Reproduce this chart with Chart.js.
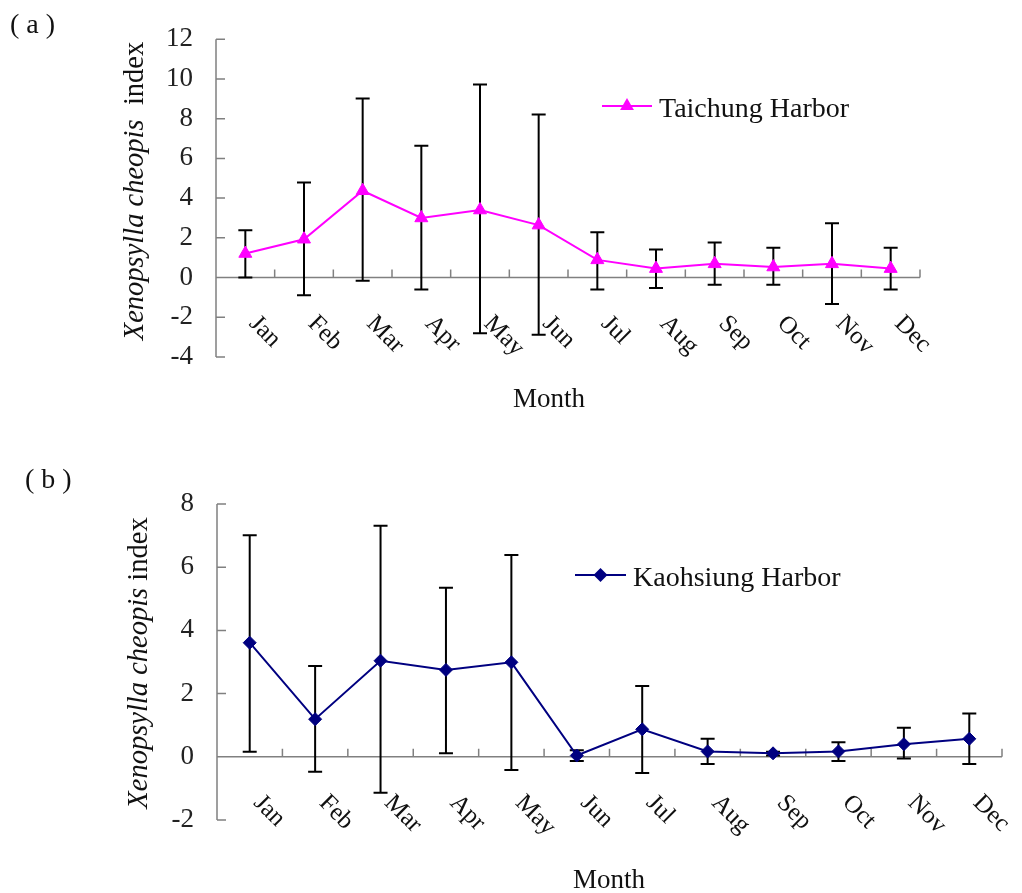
<!DOCTYPE html>
<html>
<head>
<meta charset="utf-8">
<script src="https://cdn.jsdelivr.net/npm/chart.js@4.4.0/dist/chart.umd.min.js"></script>
<style>
  html, body { margin: 0; padding: 0; background: #fff; }
  #wrap { position: relative; width: 1022px; height: 893px; }
  #cA { position: absolute; left: 0; top: 0; }
  #cB { position: absolute; left: 0; top: 440px; }
</style>
</head>
<body>
<div id="wrap">
  <canvas id="cA" width="1022" height="440"></canvas>
  <canvas id="cB" width="1022" height="453"></canvas>
</div>
<script>
// ===== Data =====
const months = ['Jan', 'Feb', 'Mar', 'Apr', 'May', 'Jun', 'Jul', 'Aug', 'Sep', 'Oct', 'Nov', 'Dec'];

const taichungMean = [1.21, 1.93, 4.37, 3.00, 3.40, 2.64, 0.89, 0.45, 0.69, 0.53, 0.69, 0.45];
const taichungHigh = [2.38, 4.78, 9.02, 6.64, 9.72, 8.21, 2.28, 1.41, 1.76, 1.50, 2.74, 1.50];
const taichungLow  = [0.00, -0.89, -0.16, -0.60, -2.80, -2.88, -0.60, -0.52, -0.36, -0.36, -1.33, -0.60];

const kaohsiungMean = [3.61, 1.19, 3.04, 2.75, 2.99, 0.04, 0.87, 0.17, 0.11, 0.17, 0.40, 0.57];
const kaohsiungHigh = [7.01, 2.87, 7.31, 5.35, 6.39, 0.21, 2.24, 0.57, 0.16, 0.46, 0.92, 1.37];
const kaohsiungLow  = [0.16, -0.47, -1.14, 0.11, -0.42, -0.13, -0.51, -0.23, 0.04, -0.13, -0.05, -0.23];

const ticksA = [-4, -2, 0, 2, 4, 6, 8, 10, 12];
const ticksB = [-2, 0, 2, 4, 6, 8];

const SERIF = '"Liberation Serif", "DejaVu Serif", serif';
const MAGENTA = '#FF00FF';
const NAVY = '#000080';

// ===== Drawing helpers =====
function drawMarker(ctx, shape, x, y, r, color) {
  ctx.fillStyle = color;
  ctx.beginPath();
  if (shape === 'triangle') {
    ctx.moveTo(x, y - r);
    ctx.lineTo(x + r * 0.866, y + r * 0.5);
    ctx.lineTo(x - r * 0.866, y + r * 0.5);
  } else {
    ctx.moveTo(x - r, y);
    ctx.lineTo(x, y - r);
    ctx.lineTo(x + r, y);
    ctx.lineTo(x, y + r);
  }
  ctx.closePath();
  ctx.fill();
}

function makeHarborPlugin(cfg) {
  return {
    id: 'harbor_' + cfg.key,
    beforeDatasetsDraw(chart) {
      const { ctx, chartArea: a, scales: { x, y } } = chart;
      const y0 = y.getPixelForValue(0);
      const n = months.length;
      ctx.save();
      // axes, ticks inside
      ctx.strokeStyle = '#808080';
      ctx.lineWidth = 1.5;
      ctx.beginPath();
      ctx.moveTo(a.left, y.getPixelForValue(cfg.yTicks[0]));
      ctx.lineTo(a.left, y.getPixelForValue(cfg.yTicks[cfg.yTicks.length - 1]));
      cfg.yTicks.forEach(v => {
        const p = y.getPixelForValue(v);
        ctx.moveTo(a.left, p);
        ctx.lineTo(a.left + 9, p);
      });
      ctx.moveTo(a.left, y0);
      ctx.lineTo(a.right, y0);
      for (let i = 0; i <= n; i++) {
        const px = i === 0 ? a.left : i === n ? a.right
          : (x.getPixelForValue(i - 1) + x.getPixelForValue(i)) / 2;
        ctx.moveTo(px, y0);
        ctx.lineTo(px, y0 - 8);
      }
      ctx.stroke();

      // error bars
      ctx.strokeStyle = '#000';
      ctx.lineWidth = 2;
      ctx.beginPath();
      cfg.high.forEach((hi, i) => {
        const px = x.getPixelForValue(i);
        const pHi = y.getPixelForValue(hi);
        const pLo = y.getPixelForValue(cfg.low[i]);
        ctx.moveTo(px, pHi); ctx.lineTo(px, pLo);
        ctx.moveTo(px - 7, pHi); ctx.lineTo(px + 7, pHi);
        ctx.moveTo(px - 7, pLo); ctx.lineTo(px + 7, pLo);
      });
      ctx.stroke();
      ctx.restore();
    },
    afterDraw(chart) {
      const { ctx, scales: { x, y } } = chart;
      const y0 = y.getPixelForValue(0);
      ctx.save();
      ctx.fillStyle = '#111';

      // rotated month labels
      ctx.font = '25px ' + SERIF;
      ctx.textAlign = 'left';
      ctx.textBaseline = 'alphabetic';
      months.forEach((m, i) => {
        ctx.save();
        ctx.translate(x.getPixelForValue(i) + 3, y0 + 47);
        ctx.rotate(Math.PI / 4);
        ctx.fillText(m, 0, 0);
        ctx.restore();
      });

      // x axis title
      ctx.font = '27px ' + SERIF;
      ctx.textAlign = 'center';
      ctx.fillText('Month', cfg.monthPos[0], cfg.monthPos[1]);

      // panel label
      ctx.textAlign = 'left';
      ctx.font = '28px ' + SERIF;
      ctx.fillText(cfg.panel, cfg.panelPos[0], cfg.panelPos[1]);

      // y axis title, italic species name
      const itPart = 'Xenopsylla cheopis';
      const rgPart = cfg.gap + 'index';
      ctx.save();
      ctx.translate(cfg.yTitlePos[0], cfg.yTitlePos[1]);
      ctx.rotate(-Math.PI / 2);
      ctx.font = 'italic 28.5px ' + SERIF;
      const w1 = ctx.measureText(itPart).width;
      ctx.font = '28.5px ' + SERIF;
      const w2 = ctx.measureText(rgPart).width;
      let sx = -(w1 + w2) / 2;
      ctx.font = 'italic 28.5px ' + SERIF;
      ctx.fillText(itPart, sx, 0);
      ctx.font = '28.5px ' + SERIF;
      ctx.fillText(rgPart, sx + w1, 0);
      ctx.restore();

      // legend
      const [lx1, lx2, ly] = cfg.legendLine;
      ctx.strokeStyle = cfg.color;
      ctx.lineWidth = 2;
      ctx.beginPath();
      ctx.moveTo(lx1, ly); ctx.lineTo(lx2, ly);
      ctx.stroke();
      drawMarker(ctx, cfg.shape, (lx1 + lx2) / 2, ly, cfg.shape === 'triangle' ? 8 : 7, cfg.color);
      ctx.fillStyle = '#111';
      ctx.font = '28px ' + SERIF;
      ctx.textAlign = 'left';
      ctx.fillText(cfg.name, lx2 + 7, ly + 11);
      ctx.restore();
    }
  };
}

function buildChart(canvasId, cfg) {
  return new Chart(document.getElementById(canvasId), {
    type: 'line',
    data: {
      labels: months,
      datasets: [{
        label: cfg.name,
        data: cfg.mean,
        borderColor: cfg.color,
        backgroundColor: cfg.color,
        borderWidth: 2,
        tension: 0,
        pointStyle: cfg.shape === 'triangle' ? 'triangle' : 'rectRot',
        pointRadius: cfg.shape === 'triangle' ? 7.5 : 6.5,
        pointBackgroundColor: cfg.color,
        pointBorderColor: cfg.color,
        pointBorderWidth: 1,
        clip: false
      }]
    },
    options: {
      responsive: false,
      animation: false,
      layout: { padding: cfg.padding },
      plugins: { legend: { display: false }, tooltip: { enabled: false } },
      scales: {
        x: { type: 'category', offset: true, display: false },
        y: {
          min: cfg.yTicks[0],
          max: cfg.yTicks[cfg.yTicks.length - 1],
          afterBuildTicks: s => { s.ticks = cfg.yTicks.map(v => ({ value: v })); },
          afterFit: s => { s.width = cfg.yWidth; },
          grid: { display: false, drawTicks: false },
          border: { display: false },
          ticks: {
            padding: 23,
            color: '#222',
            font: { family: SERIF, size: 27 }
          }
        }
      }
    },
    plugins: [makeHarborPlugin(cfg)]
  });
}

buildChart('cA', {
  key: 'a',
  name: 'Taichung Harbor',
  mean: taichungMean, high: taichungHigh, low: taichungLow,
  yTicks: ticksA,
  color: MAGENTA, shape: 'triangle',
  yWidth: 216,
  padding: { left: 0, right: 102, top: 28, bottom: 83 },
  legendLine: [602, 652, 106],
  monthPos: [549, 407],
  panel: '( a )', panelPos: [10, 33],
  yTitlePos: [143, 191],
  gap: '  '
});

buildChart('cB', {
  key: 'b',
  name: 'Kaohsiung Harbor',
  mean: kaohsiungMean, high: kaohsiungHigh, low: kaohsiungLow,
  yTicks: ticksB,
  color: NAVY, shape: 'diamond',
  yWidth: 217,
  padding: { left: 0, right: 20, top: 64, bottom: 73 },
  legendLine: [575, 626, 135],
  monthPos: [609, 448],
  panel: '( b )', panelPos: [25, 48],
  yTitlePos: [147, 223],
  gap: ' '
});
</script>
</body>
</html>
